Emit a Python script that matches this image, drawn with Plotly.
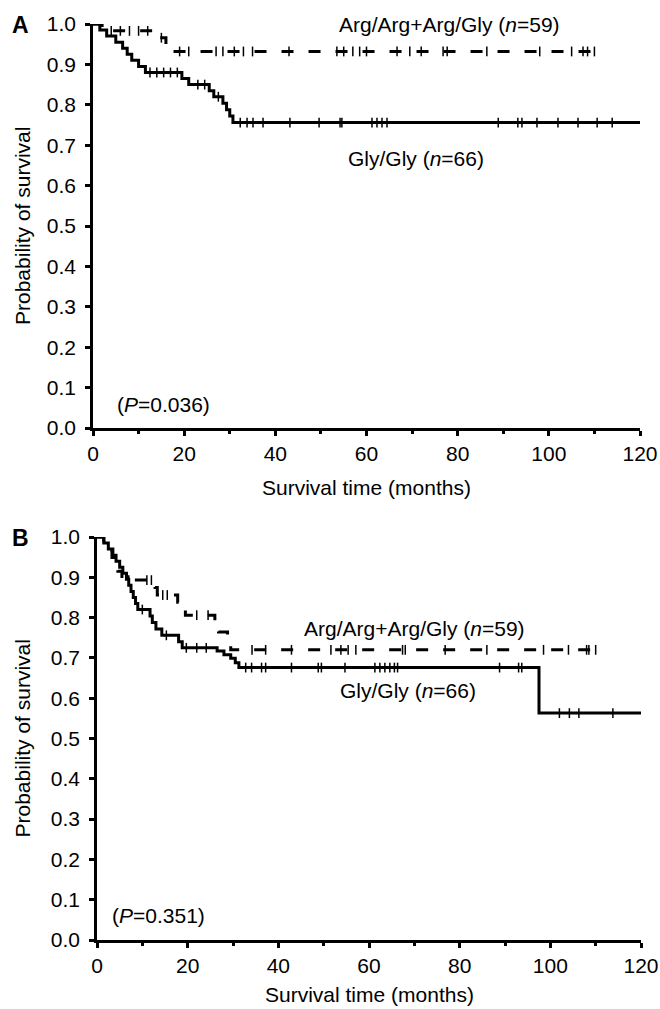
import plotly.graph_objects as go

# ---- panel A ----
# Gly/Gly (n=66)
a_gly_t = [0, 1.5, 3, 5, 6.5, 7.5, 8.5, 10, 11.5, 19.5, 21, 25.5, 26.5, 28.5, 29.3, 30, 30.7, 120]
a_gly_s = [1.0, 0.985, 0.970, 0.955, 0.940, 0.925, 0.910, 0.895, 0.880, 0.865, 0.850, 0.835, 0.820,
           0.804, 0.788, 0.772, 0.756, 0.756]
a_gly_cens = [12.5, 14, 15.5, 17, 18.5, 23, 24.5, 27.5, 32.3, 33.8, 35.1, 37.3, 43.2, 49.6, 54.2, 54.6,
              61.2, 62.3, 63.4, 64.5, 88.9, 93.2, 94.1, 97.4, 102, 106.4, 110.6, 113.9]
# Arg/Arg+Arg/Gly (n=59)
a_arg_t = [0, 2, 14, 16, 17.5, 110.6]
a_arg_s = [1.0, 0.983, 0.966, 0.949, 0.932, 0.932]
a_arg_cens = [4, 6, 8, 10, 12, 15, 19, 21, 27, 28.5, 31, 33, 35, 43, 53.5, 55, 57, 58.5, 60, 66.7, 69.5,
              72, 76.8, 77.7, 86.4, 98, 105, 107.5, 108.5, 110]

# ---- panel B ----
b_gly_t = [0, 1.5, 2.5, 3.5, 4.2, 5, 5.7, 6.5, 7, 7.5, 8, 8.5, 9, 11.7, 12.2, 13, 14.3, 18, 18.8,
           26.5, 28, 29.5, 30.5, 31.3, 97.5, 120]
b_gly_s = [1.0, 0.985, 0.970, 0.955, 0.940, 0.925, 0.910, 0.895, 0.880, 0.865, 0.850, 0.835, 0.820,
           0.804, 0.788, 0.772, 0.756, 0.740, 0.725, 0.717, 0.708, 0.699, 0.688, 0.676, 0.563, 0.563]
b_gly_cens = [10, 15.3, 19.7, 22, 24.1, 32.8, 34.1, 36.3, 37.2, 42.9, 48.8, 49.5, 54.7, 61.3, 62.4,
              63.5, 64.6, 65.6, 66.3, 88.8, 93, 93.7, 102, 104.2, 106.3, 113.8]
b_arg_t = [0, 1.5, 2.5, 3.3, 4, 4.6, 5.5, 12.8, 13.3, 17.8, 18.5, 19.5, 26, 26.8, 28.8, 29.5, 110.5]
b_arg_s = [1.0, 0.983, 0.966, 0.949, 0.932, 0.915, 0.893, 0.875, 0.856, 0.838, 0.822, 0.806, 0.785,
           0.764, 0.743, 0.72, 0.72]
b_arg_cens = [7, 11, 12, 14.5, 15.5, 22, 24.5, 34.2, 37.2, 42.9, 51.6, 53.8, 55.4, 57.1, 67.4, 68,
              76.8, 86, 98.5, 104, 108, 108.5, 110]

x_ticks = [0, 20, 40, 60, 80, 100, 120]
x_minor = [10, 30, 50, 70, 90, 110]
p_values = ["0.036", "0.351"]

FONT = "Liberation Sans, Arial, sans-serif"
W, H = 660, 1009


def surv_at(ts, ss, t):
    # value of the KM step curve at time t
    v = ss[0]
    for ti, si in zip(ts, ss):
        if ti <= t:
            v = si
    return v


def add_curve(fig, ts, ss, cens, dash, xa, ya):
    fig.add_trace(go.Scatter(x=ts, y=ss, mode="lines", line_shape="hv",
                             line=dict(color="black", width=3, dash=dash),
                             xaxis=xa, yaxis=ya, cliponaxis=False, showlegend=False))
    # censored cases as small vertical ticks
    fig.add_trace(go.Scatter(x=cens, y=[surv_at(ts, ss, c) for c in cens], mode="markers",
                             marker=dict(symbol="line-ns-open", size=7, color="black",
                                         line=dict(color="black", width=1.5)),
                             xaxis=xa, yaxis=ya, cliponaxis=False, showlegend=False))


fig = go.Figure()
add_curve(fig, a_gly_t, a_gly_s, a_gly_cens, "solid", "x", "y")
add_curve(fig, a_arg_t, a_arg_s, a_arg_cens, "12px,15px", "x", "y")
add_curve(fig, b_gly_t, b_gly_s, b_gly_cens, "solid", "x2", "y2")
add_curve(fig, b_arg_t, b_arg_s, b_arg_cens, "12px,15px", "x2", "y2")

tickfont = dict(family=FONT, size=21, color="black")
xstyle = dict(range=[0, 120], tickvals=x_ticks, ticks="outside", ticklen=5, tickwidth=2.5,
              tickcolor="black", showline=True, linewidth=2.5, linecolor="black", showgrid=False,
              zeroline=False, tickfont=tickfont, automargin=False, ticklabeloverflow="allow",
              minor=dict(tickvals=x_minor, ticks="outside", ticklen=3, tickwidth=2.5,
                         tickcolor="black", showgrid=False))
ystyle = dict(range=[0, 1], dtick=0.1, tick0=0, tickformat=".1f", ticks="outside", ticklen=5,
              tickwidth=2.5, tickcolor="black", showline=True, linewidth=2.5, linecolor="black",
              showgrid=False, zeroline=False, tickfont=tickfont, automargin=False,
              ticklabelstandoff=5, ticklabeloverflow="allow")

# pixel positions of the two plot areas (left, right, top, bottom)
a_box = (93, 640, 24, 428)
b_box = (97, 641, 537, 940)

fig.update_layout(
    width=W, height=H, margin=dict(l=0, r=0, t=0, b=0),
    paper_bgcolor="white", plot_bgcolor="white",
    xaxis=dict(xstyle, domain=[a_box[0] / W, a_box[1] / W], anchor="y"),
    yaxis=dict(ystyle, domain=[1 - a_box[3] / H, 1 - a_box[2] / H], anchor="x"),
    xaxis2=dict(xstyle, domain=[b_box[0] / W, b_box[1] / W], anchor="y2"),
    yaxis2=dict(ystyle, domain=[1 - b_box[3] / H, 1 - b_box[2] / H], anchor="x2"),
)

txt = dict(family=FONT, size=21, color="black")
ann = []
for box, letter, gap in [(a_box, "A", 59), (b_box, "B", 54)]:
    ann.append(dict(text="<b>%s</b>" % letter, x=20 / W, y=1 - (box[2] + 1) / H,
                    font=dict(family=FONT, size=23, color="black")))
    ann.append(dict(text="Probability of survival", textangle=-90, x=22 / W,
                    y=1 - (box[2] + box[3]) / 2 / H, font=txt))
    ann.append(dict(text="Survival time (months)", x=(box[0] + box[1]) / 2 / W,
                    y=1 - (box[3] + gap) / H, font=txt))
for a in ann:
    a.update(xref="paper", yref="paper", xanchor="center", yanchor="middle", showarrow=False)

lab = [
    dict(text="Arg/Arg+Arg/Gly (<i>n</i>=59)", x=78.3, y=1.0, xref="x", yref="y", xanchor="center"),
    dict(text="Gly/Gly (<i>n</i>=66)", x=70.9, y=0.666, xref="x", yref="y", xanchor="center"),
    dict(text="Arg/Arg+Arg/Gly (<i>n</i>=59)", x=70, y=0.774, xref="x2", yref="y2", xanchor="center"),
    dict(text="Gly/Gly (<i>n</i>=66)", x=68.5, y=0.618, xref="x2", yref="y2", xanchor="center"),
    dict(text="(<i>P</i>=%s)" % p_values[0], x=4.8, y=0.057, xref="x", yref="y", xanchor="left"),
    dict(text="(<i>P</i>=%s)" % p_values[1], x=2.8, y=0.062, xref="x2", yref="y2", xanchor="left"),
]
for a in lab:
    a.update(showarrow=False, font=txt, yanchor="middle")
fig.update_layout(annotations=ann + lab)

# drop the default page margin so the 660x1009 figure fills the window without scrollbars
fig.write_html("out.html", config={"displayModeBar": False},
               post_script="document.body.style.margin='0';document.body.style.overflow='hidden';")
